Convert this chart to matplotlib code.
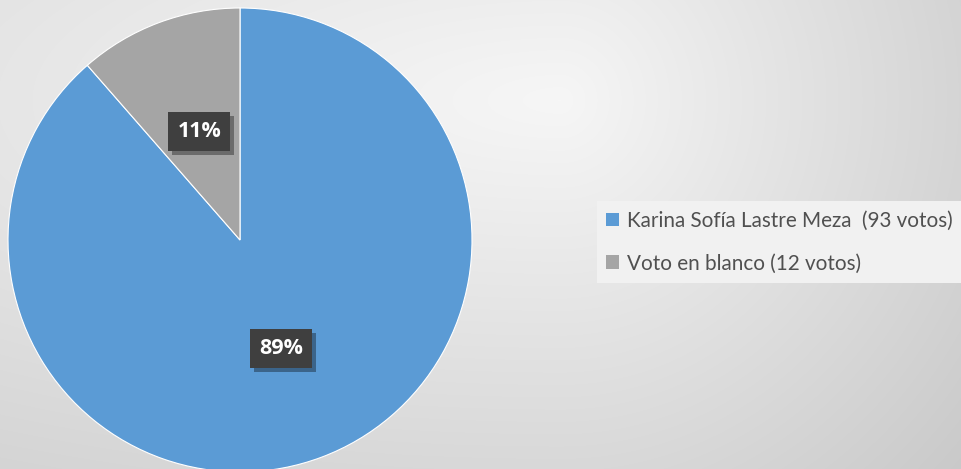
import numpy as np
import matplotlib
matplotlib.use("Agg")
import matplotlib.pyplot as plt
import matplotlib.patheffects as pe

# ---- data ----
labels = ["Karina Sofía Lastre Meza  (93 votos)", "Voto en blanco (12 votos)"]
votes = [93, 12]
colors = ["#5B9BD5", "#A5A5A5"]

W, H, DPI = 961, 469, 100
fig = plt.figure(figsize=(W / DPI, H / DPI), dpi=DPI)

# ---- background gradient ----
bg = fig.add_axes([0, 0, 1, 1])
yy, xx = np.mgrid[0:H, 0:W].astype(float)
cx, cy = 560.0, 100.0
dx = xx - cx
rx = np.where(dx > 0, 430.0, 1250.0)
d = np.sqrt((dx / rx) ** 2 + ((yy - cy) / 440.0) ** 2)
L = np.clip(0.965 - 0.14 * d, 0, 1)
bg.imshow(np.dstack([L, L, L]), extent=[0, W, H, 0], aspect="auto", interpolation="bilinear")
bg.set_axis_off()

# ---- pie ----
cxp, cyp, r = 240, 240, 232
ax = fig.add_axes([(cxp - r) / W, (H - cyp - r) / H, 2 * r / W, 2 * r / H])
ax.set_facecolor("none")
wedges, texts, autotexts = ax.pie(
    votes, colors=colors, startangle=90, counterclock=False,
    autopct=lambda p: f"{p:.0f}%", pctdistance=0.5, radius=1,
    wedgeprops=dict(edgecolor="white", linewidth=0.8),
    textprops=dict(color="white", fontsize=15.5, fontweight="bold",
                   family=["Open Sans", "DejaVu Sans"]),
)
ax.set_xlim(-1, 1)
ax.set_ylim(-1, 1)
ax.set_aspect("equal")
for t in autotexts:
    t.set_bbox(dict(boxstyle="square,pad=0.42", facecolor="#3f3f3f", edgecolor="none"))
    t.get_bbox_patch().set_path_effects([
        pe.SimplePatchShadow(offset=(3, -3), shadow_rgbFace="black", alpha=0.35),
        pe.Normal()])

# ---- legend font size fitted to the reference text width ----
fam = ["Lato", "DejaVu Sans"]
renderer = fig.canvas.get_renderer()
probe = fig.text(0, 0, labels[0], family=fam, size=14)
wpx = probe.get_window_extent(renderer).width
probe.remove()
lsize = 14 * 328.0 / wpx

leg = fig.legend(
    wedges, labels, loc="center left", bbox_to_anchor=(597 / W, 1 - 242 / H),
    frameon=True, fancybox=False, facecolor="#f1f1f1", edgecolor="none", framealpha=1,
    handlelength=0.62, handleheight=0.62, handletextpad=0.4, labelspacing=1.1,
    borderpad=0.45, borderaxespad=0,
    prop=dict(family=fam, size=lsize),
    labelcolor="#505050",
)
for h in leg.legend_handles:
    h.set_edgecolor("none")

fig.savefig("out.png", dpi=DPI)
